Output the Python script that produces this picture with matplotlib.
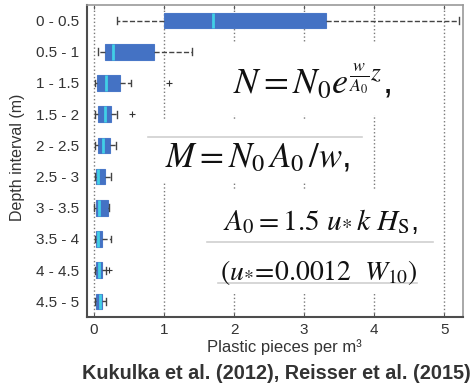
import matplotlib
matplotlib.use('Agg')
import matplotlib.pyplot as plt
from matplotlib.patches import Rectangle
from matplotlib.lines import Line2D

plt.rcParams['font.family'] = ['Liberation Sans', 'DejaVu Sans']
plt.rcParams['mathtext.fontset'] = 'stix'

# depth bins and box statistics (plastic pieces per m3)
depths = ['0 - 0.5', '0.5 - 1', '1 - 1.5', '1.5 - 2', '2 - 2.5',
          '2.5 - 3', '3 - 3.5', '3.5 - 4', '4 - 4.5', '4.5 - 5']
whis_lo = [0.33, 0.06, 0.02, 0.01, 0.01, 0.01, 0.005, 0.02, 0.02, 0.02]
q1 = [1.00, 0.16, 0.04, 0.06, 0.05, 0.03, 0.03, 0.03, 0.03, 0.03]
med = [1.70, 0.27, 0.17, 0.16, 0.13, 0.06, 0.07, 0.06, 0.07, 0.09]
q3 = [3.32, 0.85, 0.37, 0.24, 0.23, 0.16, 0.20, 0.12, 0.11, 0.11]
whis_hi = [5.21, 1.40, 0.53, 0.33, 0.31, 0.24, 0.22, 0.24, 0.17, 0.17]
outliers = [[], [], [1.07], [0.54], [], [], [], [], [0.21], []]

xticks = [0, 1, 2, 3, 4, 5]

W, H = 473, 389


def px(x, y):
    # pixel position in the 473x389 picture -> figure fraction
    return x / W, 1 - y / H


fig = plt.figure(figsize=(W / 100, H / 100), dpi=100)
ax = fig.add_axes([87 / W, 1 - 317 / H, (463 - 87) / W, (317 - 5) / H])

stats = []
for i in range(len(depths)):
    stats.append({'whislo': whis_lo[i], 'q1': q1[i], 'med': med[i],
                  'q3': q3[i], 'whishi': whis_hi[i], 'fliers': outliers[i],
                  'label': depths[i]})

ax.bxp(stats, positions=range(1, len(depths) + 1), orientation='horizontal',
       widths=0.5, patch_artist=True, capwidths=0.22,
       boxprops=dict(facecolor='#4472c4', edgecolor='#4a78c8', linewidth=0.8),
       medianprops=dict(color='#41d0e6', linewidth=2.0),
       whiskerprops=dict(color='#444444', linestyle='--', linewidth=1.0),
       capprops=dict(color='#444444', linewidth=1.0),
       flierprops=dict(marker='+', markeredgecolor='#333333', markersize=4,
                       markeredgewidth=0.8))

ax.set_xlim(-0.1, 5.27)
ax.set_ylim(len(depths) + 0.5, 0.5)
ax.set_xticks(xticks)
ax.set_xticklabels([str(t) for t in xticks])
ax.xaxis.grid(True, linestyle=':', color='#7a7a7a', linewidth=1.0)
ax.set_axisbelow(True)

ax.tick_params(axis='x', direction='in', top=True, length=3, pad=4,
               labelsize=11, labelcolor='#333333', color='#555555')
ax.tick_params(axis='y', length=0, pad=6, labelsize=11, labelcolor='#333333')

for side in ['left', 'bottom']:
    ax.spines[side].set_color('#4d4d4d')
    ax.spines[side].set_linewidth(1.5)
for side in ['top', 'right']:
    ax.spines[side].set_color('#9a9a9a')
    ax.spines[side].set_linewidth(1.2)

ax.set_xlabel('Plastic pieces per m³', fontsize=12, color='#333333')
ax.xaxis.set_label_coords(0.524, -0.072)
ax.set_ylabel('Depth interval (m)', fontsize=11.5, color='#333333')
ax.yaxis.set_label_coords(-0.165, 0.513)

# white patches of the pasted equations (they hide the grid)
for x0, y0, x1, y1 in [(200, 42, 436, 115), (148, 120, 362, 183),
                       (200, 190, 438, 292)]:
    fx0, fy1 = px(x0, y0)
    fx1, fy0 = px(x1, y1)
    fig.patches.append(Rectangle((fx0, fy0), fx1 - fx0, fy1 - fy0,
                                 transform=fig.transFigure, facecolor='white',
                                 edgecolor='none', zorder=3))

for x0, x1, y in [(148, 362, 137), (207, 433, 242), (218, 417, 283)]:
    fx0, fy = px(x0, y)
    fx1, _ = px(x1, y)
    fig.add_artist(Line2D([fx0, fx1], [fy, fy], transform=fig.transFigure,
                          color='#d0d0d0', linewidth=1.2, zorder=4))

eq_kw = dict(ha='left', va='baseline', color='#111111', zorder=5)
fig.text(*px(233, 94), r'$N = N_0e^{\frac{w}{A_0}z}$,', fontsize=26, **eq_kw)
fig.text(*px(165, 167), r'$M = N_0\,A_0\,/w$,', fontsize=25, **eq_kw)
fig.text(*px(223, 230), r'$A_0 = 1.5\ u_{*}\,k\ H_\mathrm{S}$,', fontsize=21.2, **eq_kw)
fig.text(*px(220, 280), r'$(u_{*}\!=\!0.0012\ \ W_{10})$', fontsize=20, **eq_kw)

fig.text(*px(276, 379), 'Kukulka et al. (2012), Reisser et al. (2015)',
         ha='center', va='baseline', fontsize=14.3, fontweight='bold',
         color='#333333')

fig.savefig('out.png', dpi=100)
